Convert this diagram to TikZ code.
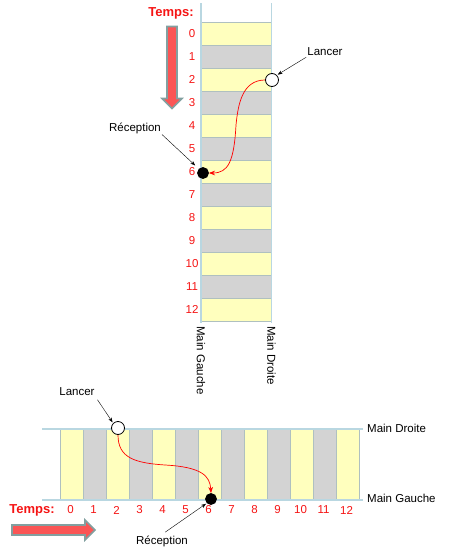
\documentclass[tikz,border=0pt]{standalone}
\usepackage{fontspec}
\setmainfont{Liberation Sans}
\usetikzlibrary{arrows.meta, positioning, shapes.arrows}
\definecolor{jauneCase}{RGB}{255,255,190}
\definecolor{grisCase}{RGB}{211,211,211}
\definecolor{bordCase}{RGB}{175,192,192}
\definecolor{rail}{RGB}{185,215,225}
\definecolor{rougeT}{RGB}{245,20,20}
\definecolor{rougeFleche}{RGB}{250,85,85}
\definecolor{grisFleche}{RGB}{130,160,160}

\begin{document}
\begin{tikzpicture}[x=1pt, y=-1pt,
  case/.style={rectangle, draw=bordCase, inner sep=0pt},
  caseV/.style={case, minimum width=70pt, minimum height=23pt},
  caseH/.style={case, minimum width=23pt, minimum height=71pt},
  num/.style={text=rougeT, font=\fontsize{11.5}{13}\selectfont, inner sep=0pt},
  lbl/.style={font=\fontsize{11.5}{13}\selectfont, inner sep=1pt},
  temps/.style={text=rougeT, font=\fontsize{13}{15}\selectfont\bfseries, inner sep=0pt},
  balle/.style={circle, draw=black, thick, inner sep=0pt},
  railstyle/.style={draw=rail, line width=1.4pt},
  fleche/.style={->, >=Stealth, thin},
  courbe/.style={->, >=Stealth, draw=red, line width=0.7pt},
  flTemps/.style={single arrow, draw=grisFleche, line width=1.6pt, fill=rougeFleche,
                  single arrow head extend=5pt, inner xsep=0pt, inner ysep=4.2pt,
                  minimum width=20pt}
]
  \useasboundingbox (0,0) rectangle (450,549);

  % --- vertical version
  \foreach \i in {0,...,12}{
    \ifodd\i \def\coul{grisCase}\else\def\coul{jauneCase}\fi
    \node[caseV, fill=\coul] (cT\i) at (236, 33.5+23*\i) {};
    \node[num] (nT\i) at (192, 33.5+23*\i) {\i};
  }
  \draw[railstyle] (201,3) -- (201,323);
  \draw[railstyle] (271.5,3) -- (271.5,323);

  \node[temps] (tempsT) at (171,13) {Temps:};
  \node[flTemps, rotate=-90, minimum height=82pt] (flT) at (172,65) {};

  \node[lbl, rotate=-90, anchor=west] (mgT) at (201,325) {Main Gauche};
  \node[lbl, rotate=-90, anchor=west] (mdT) at (271.5,325) {Main Droite};

  \node[balle, fill=white, minimum size=13pt] (lancT) at (272,80) {};
  \node[balle, fill=black, minimum size=11pt] (recT) at (203,173) {};

  \node[lbl] (txtLancT) at (325,52) {Lancer};
  \node[lbl] (txtRecT) at (135,128) {Réception};
  \draw[fleche, shorten >=1pt] (txtLancT.south west) -- (lancT.north east);
  \draw[fleche, shorten >=5pt] (txtRecT.south east) -- (recT.north west);
  \draw[courbe] (lancT.west) .. controls (242,80) and (238,105) .. (236,125)
                .. controls (234,162) and (228,173) .. (recT.east);

  % --- horizontal version
  \foreach \i in {0,...,12}{
    \ifodd\i \def\coul{grisCase}\else\def\coul{jauneCase}\fi
    \node[caseH, fill=\coul] (cB\i) at (71.5+23*\i, 464.5) {};
    \node[num] (nB\i) at (70.5+23*\i, 510) {\i};
  }
  \draw[railstyle] (42,429) -- (363,429);
  \draw[railstyle] (42,500) -- (363,500);

  \node[temps] (tempsB) at (32,510) {Temps:};
  \node[flTemps, minimum height=83pt] (flB) at (51,530) {};

  \node[lbl, anchor=west] (mdB) at (366,428) {Main Droite};
  \node[lbl, anchor=west] (mgB) at (366,498) {Main Gauche};

  \node[balle, fill=white, minimum size=13pt] (lancB) at (118,428) {};
  \node[balle, fill=black, minimum size=11pt] (recB) at (211,499) {};

  \node[lbl] (txtLancB) at (77,392) {Lancer};
  \node[lbl] (txtRecB) at (162,541) {Réception};
  \draw[fleche, shorten <=3pt, shorten >=1pt] (txtLancB.south east) -- (lancB.north west);
  \draw[fleche, shorten <=4pt, shorten >=1pt] (txtRecB.north) -- (recB.south west);
  \draw[courbe] (lancB.south) .. controls (118,458) and (135,463) .. (165,465)
                .. controls (202,467) and (210,476) .. (recB.north);
\end{tikzpicture}
\end{document}
